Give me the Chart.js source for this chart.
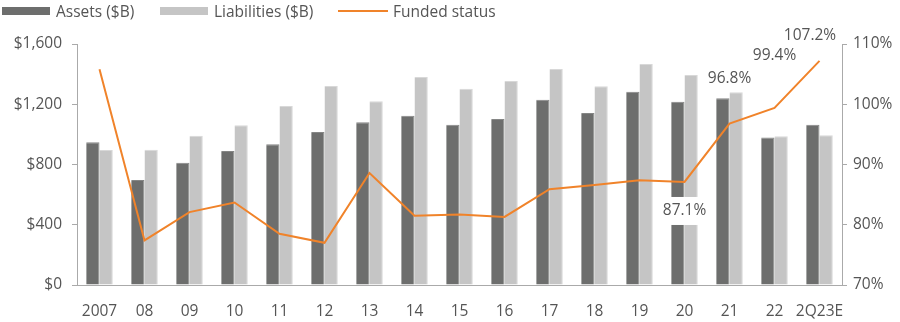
<!DOCTYPE html>
<html>
<head>
<meta charset="utf-8">
<script src="https://cdn.jsdelivr.net/npm/chart.js@4/dist/chart.umd.min.js"></script>
<style>
  html, body { margin: 0; padding: 0; background: #fff; }
  #wrap { position: relative; width: 900px; height: 322px; }
  canvas { position: absolute; left: 0; top: 0; }
  .lg { position: absolute; font-family: "Open Sans", Lato, sans-serif; font-size: 15.5px; color: #555; line-height: 20px; top: 1px; white-space: nowrap; }
  .sw { position: absolute; }
</style>
</head>
<body>
<div id="wrap">
  <canvas id="c" width="900" height="322"></canvas>
  <div class="sw" style="left:2px;top:7px;width:48px;height:8px;background:#6d6e6d;"></div>
  <div class="lg" style="left:56px;">Assets ($B)</div>
  <div class="sw" style="left:160px;top:7px;width:48px;height:8px;background:#c5c5c5;"></div>
  <div class="lg" style="left:214px;">Liabilities ($B)</div>
  <div class="sw" style="left:338px;top:10px;width:50px;height:2px;background:#f0832a;"></div>
  <div class="lg" style="left:393px;">Funded status</div>
</div>
<script>
// Pension assets, liabilities ($B) and funded status (%) by year
const categories = ['2007', '08', '09', '10', '11', '12', '13', '14', '15', '16', '17', '18', '19', '20', '21', '22', '2Q23E'];
const assets = [947, 697, 812, 890, 934, 1016, 1080, 1124, 1064, 1102, 1230, 1142, 1283, 1217, 1240, 980, 1064];
const liabilities = [896, 898, 991, 1060, 1188, 1321, 1220, 1381, 1303, 1354, 1434, 1319, 1467, 1394, 1279, 987, 994];
const fundedStatus = [105.8, 77.4, 82.1, 83.7, 78.5, 77.0, 88.6, 81.5, 81.7, 81.3, 85.9, 86.6, 87.4, 87.1, 96.8, 99.4, 107.2];

// Value labels shown on the funded-status line (index into categories)
const labeledPoints = [13, 14, 15, 16];
// Label placement relative to the point: [dx, dy, white backing]
const labelPlacement = {
  13: [0, 29, true],
  14: [0, -44.5, false],
  15: [0, -52, false],
  16: [-9.5, -25.6, false]
};

const FONT = '"Open Sans", Lato, sans-serif';
const FSIZE = 15.5;
const TEXT = '#555555';
const AXIS = '#aaaaaa';

const pointLabels = {
  id: 'pointLabels',
  afterDatasetsDraw(chart) {
    const { ctx } = chart;
    const x = chart.scales.x, y1 = chart.scales.y1;
    ctx.save();
    ctx.font = FSIZE + 'px ' + FONT;
    ctx.textAlign = 'center';
    ctx.textBaseline = 'middle';
    labeledPoints.forEach(i => {
      const [dx, dy, boxed] = labelPlacement[i];
      const v = fundedStatus[i];
      const txt = v.toFixed(1) + '%';
      const px = x.getPixelForValue(i) + dx;
      const py = y1.getPixelForValue(v) + dy;
      if (boxed) {
        const w = ctx.measureText(txt).width + 4;
        ctx.fillStyle = '#ffffff';
        ctx.fillRect(px - w / 2, py - 14, w, 28);
      }
      ctx.fillStyle = TEXT;
      ctx.fillText(txt, px, py);
    });
    ctx.restore();
  }
};

new Chart(document.getElementById('c'), {
  data: {
    labels: categories,
    datasets: [
      {
        type: 'line',
        label: 'Funded status',
        data: fundedStatus,
        yAxisID: 'y1',
        borderColor: '#f0832a',
        borderWidth: 2,
        pointRadius: 0,
        tension: 0,
        order: 0
      },
      {
        type: 'bar',
        label: 'Assets ($B)',
        data: assets,
        yAxisID: 'y',
        backgroundColor: '#6d6e6d',
        borderColor: '#858685',
        borderWidth: { top: 1, right: 1, left: 0, bottom: 0 },
        borderSkipped: 'bottom',
        categoryPercentage: 0.59,
        barPercentage: 1,
        order: 1
      },
      {
        type: 'bar',
        label: 'Liabilities ($B)',
        data: liabilities,
        yAxisID: 'y',
        backgroundColor: '#c5c5c5',
        borderColor: '#d8d8d8',
        borderWidth: { top: 1, right: 1, left: 0, bottom: 0 },
        borderSkipped: 'bottom',
        categoryPercentage: 0.59,
        barPercentage: 1,
        order: 1
      }
    ]
  },
  options: {
    responsive: false,
    animation: false,
    layout: { padding: { top: 44, left: 0, right: 0, bottom: 0 } },
    plugins: {
      legend: { display: false },
      tooltip: { enabled: false }
    },
    scales: {
      x: {
        grid: { display: true, drawOnChartArea: false, drawTicks: false },
        border: { display: true, color: AXIS, width: 1 },
        ticks: { color: TEXT, font: { family: FONT, size: FSIZE }, padding: 17, maxRotation: 0, autoSkip: false },
        afterFit(s) { s.height = 37; }
      },
      y: {
        position: 'left',
        min: 0, max: 1600,
        grid: { display: true, drawOnChartArea: false, drawTicks: true, tickLength: 5, color: AXIS },
        border: { display: true, color: AXIS, width: 1 },
        ticks: {
          stepSize: 400, color: TEXT, padding: 10,
          font: { family: FONT, size: FSIZE },
          callback: v => '$' + v.toLocaleString('en-US')
        },
        afterFit(s) { s.width = 77; }
      },
      y1: {
        position: 'right',
        min: 70, max: 110,
        grid: { display: true, drawOnChartArea: false, drawTicks: true, tickLength: 5, color: AXIS },
        border: { display: true, color: AXIS, width: 1 },
        ticks: {
          stepSize: 10, color: TEXT, padding: 6,
          font: { family: FONT, size: FSIZE },
          callback: v => v + '%'
        },
        afterFit(s) { s.width = 58; }
      }
    }
  },
  plugins: [pointLabels]
});
</script>
</body>
</html>
